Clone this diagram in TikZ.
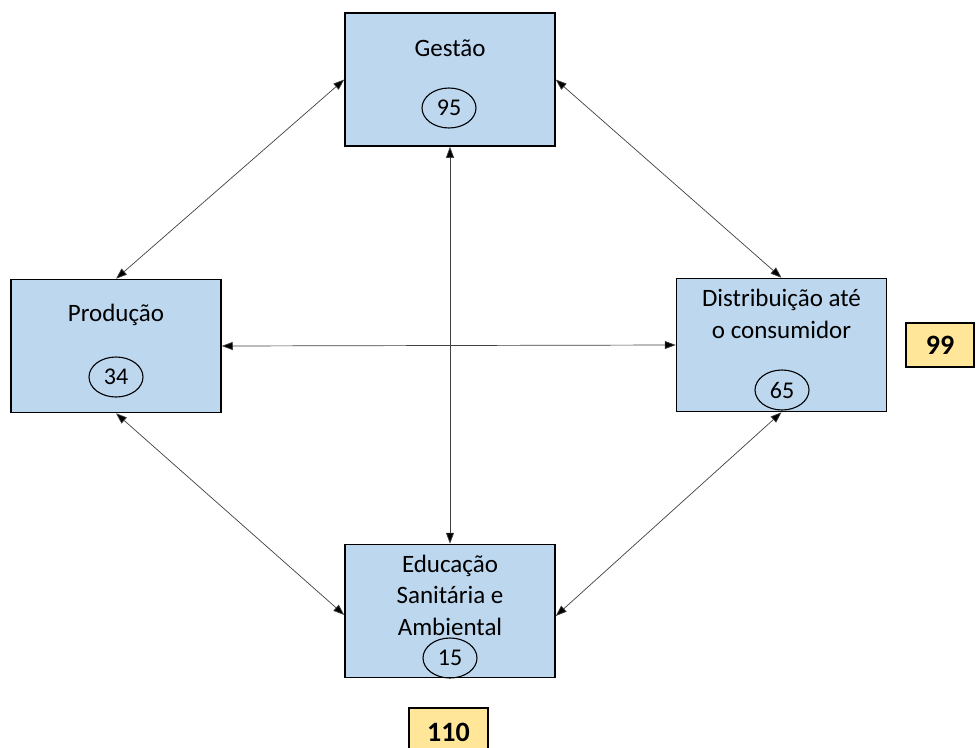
\documentclass[tikz,border=0pt]{standalone}
\usepackage{fontspec}
\setmainfont{Carlito}
\usetikzlibrary{arrows.meta,shapes.geometric}
\definecolor{boxblue}{HTML}{BDD7EE}
\definecolor{boxyellow}{HTML}{FFE699}
\begin{document}
\begin{tikzpicture}[x=1pt,y=-1pt,
  bluebox/.style={draw=black,line width=1.5pt,fill=boxblue,rectangle,minimum width=210pt,minimum height=133pt,inner sep=0pt},
  ybox/.style={draw=black,line width=1.3pt,fill=boxyellow,rectangle,inner sep=0pt,font=\fontsize{28}{30}\selectfont\bfseries},
  lbl/.style={font=\fontsize{25}{31.5}\selectfont,align=center,inner sep=0pt},
  num/.style={draw=black,line width=1.1pt,ellipse,minimum width=54pt,minimum height=40pt,inner sep=0pt,font=\fontsize{24}{26}\selectfont},
  conn/.style={line width=0.7pt,draw=black!75,{Triangle[length=11pt,width=8pt,fill=black]}-{Triangle[length=11pt,width=8pt,fill=black]}}
]
\useasboundingbox (0,0) rectangle (976,747);
\node[bluebox] (ges) at (450,79.5) {};
\node[bluebox] (prod) at (116,346) {};
\node[bluebox] (dist) at (781.5,345) {};
\node[bluebox] (edu) at (450,611) {};

\node[lbl] (tges) at (450,48) {Gestão};
\node[lbl] (tprod) at (116,315) {Produção};
\node[lbl] (tdist) at (781.5,314) {Distribuição até\\o consumidor};
\node[lbl] (tedu) at (450,595) {Educação\\Sanitária e\\Ambiental};

\node[num] (n95) at (449,108) {95};
\node[num] (n34) at (116,377) {34};
\node[num] (n65) at (782,390) {65};
\node[num] (n15) at (450,658) {15};

\node[ybox,minimum width=68pt,minimum height=44pt] (y99) at (940,345) {99};
\node[ybox,minimum width=79pt,minimum height=48pt] (y110) at (448.5,732) {110};

\draw[conn] (ges.west) -- (prod.north);
\draw[conn] (ges.east) -- (dist.north);
\draw[conn] (ges.south) -- (edu.north);
\draw[conn] (prod.east) -- (dist.west);
\draw[conn] (prod.south) -- ([yshift=-4pt]edu.west);
\draw[conn] (dist.south) -- ([yshift=-5pt]edu.east);
\end{tikzpicture}
\end{document}
